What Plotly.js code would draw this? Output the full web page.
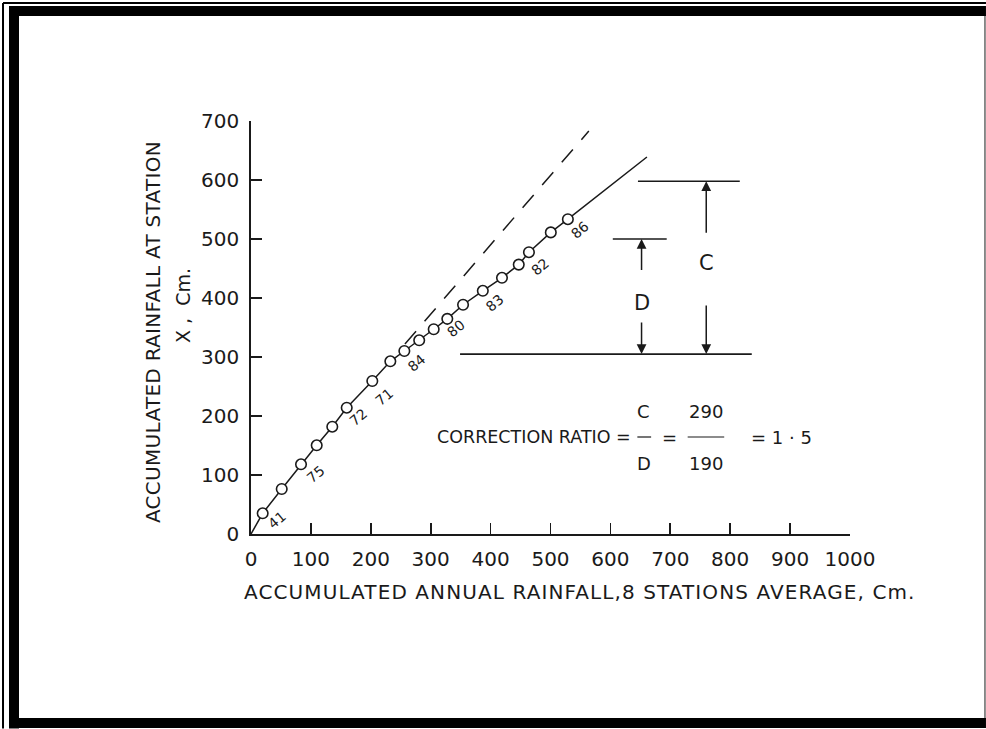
<!DOCTYPE html>
<html>
<head>
<meta charset="utf-8">
<script src="https://cdn.plot.ly/plotly-3.0.1.min.js"></script>
<style>
html,body{margin:0;padding:0;background:#fff;}
#chart{width:986px;height:729px;}
</style>
</head>
<body>
<div id="chart"></div>
<script>
// ---- data ----
const pointsX = [19.5, 51.3, 83.5, 109.7, 135.7, 159.8, 202.5, 232.6, 256, 280.8, 305, 327.7, 354, 387, 419, 447, 464, 500.5, 529];
const pointsY = [35.1, 76.3, 118.1, 150.3, 181.9, 214.1, 259.3, 292.7, 310.2, 328.3, 347, 364.7, 388.6, 412.2, 434.2, 456.6, 477.6, 511.2, 533.6];
const lineStart = [0, 0];
const lineEnd = [661, 639];
const dashX = [257, 564];
const dashY = [322, 683];
const yearLabels = ['41', '75', '72', '71', '84', '80', '83', '82', '86'];
const yearLabelX = [43, 108.5, 179, 222, 276.6, 343, 407, 482, 549];
const yearLabelY = [24, 101, 199, 233, 289, 349, 391, 453, 515];
const xTickVals = [0, 100, 200, 300, 400, 500, 600, 700, 800, 900, 1000];
const yTickVals = [0, 100, 200, 300, 400, 500, 600, 700];
const baseLevel = 305;      // common base line of C and D
const levelC = 598;
const levelD = 500;
const valueC = 290;
const valueD = 190;
const ratio = '1·5';

const ink = '#1a1a1a';
const FONT = 'DejaVu Sans, sans-serif';

const lineX = [lineStart[0]].concat(pointsX, [lineEnd[0]]);
const lineY = [lineStart[1]].concat(pointsY, [lineEnd[1]]);

const traces = [
  {x: dashX, y: dashY, mode: 'lines', line: {color: ink, width: 1.5, dash: '17px,13px'}, hoverinfo: 'skip'},
  {x: lineX, y: lineY, mode: 'lines', line: {color: ink, width: 1.5}, hoverinfo: 'skip'},
  {x: pointsX, y: pointsY, mode: 'markers', marker: {symbol: 'circle', size: 10.5, color: '#fff', line: {color: ink, width: 1.6}}, hoverinfo: 'skip'}
];

function spaced(t, px) { return '<span style="letter-spacing:' + px + 'px">' + t + '</span>'; }

const annotations = [];
yearLabels.forEach((t, i) => {
  annotations.push({x: yearLabelX[i], y: yearLabelY[i], xref: 'x', yref: 'y', text: t, showarrow: false,
    textangle: -40, font: {family: FONT, size: 14, color: ink}});
});
// axis titles (paper coords: px = 251 + 599*x, py = 534 - 413*y)
annotations.push({xref: 'paper', yref: 'paper', x: 0.549, y: -0.1404, xanchor: 'center', yanchor: 'middle',
  text: spaced('ACCUMULATED ANNUAL RAINFALL,8 STATIONS AVERAGE, Cm.', 1.1),
  showarrow: false, font: {family: FONT, size: 20, color: ink}});
annotations.push({xref: 'paper', yref: 'paper', x: -0.1636, y: 0.489, xanchor: 'center', yanchor: 'middle',
  text: spaced('ACCUMULATED RAINFALL AT STATION', 0.3), textangle: -90,
  showarrow: false, font: {family: FONT, size: 20, color: ink}});
annotations.push({xref: 'paper', yref: 'paper', x: -0.1135, y: 0.552, xanchor: 'center', yanchor: 'middle',
  text: 'X ,  Cm.', textangle: -90,
  showarrow: false, font: {family: FONT, size: 19, color: ink}});
// C and D arrows
const cX = 760, dX = 652;
function arrow(x, yHead, yTail) {
  annotations.push({x: x, y: yHead, ax: x, ay: yTail, xref: 'x', yref: 'y', axref: 'x', ayref: 'y', text: '',
    showarrow: true, arrowhead: 2, arrowsize: 1.3, arrowwidth: 1.5, arrowcolor: ink});
}
arrow(cX, levelC, 508);
arrow(cX, baseLevel, 390);
arrow(dX, levelD, 445);
arrow(dX, baseLevel, 361);
annotations.push({x: cX, y: 459, xref: 'x', yref: 'y', text: 'C', showarrow: false, font: {family: FONT, size: 21, color: ink}});
annotations.push({x: dX, y: 392, xref: 'x', yref: 'y', text: 'D', showarrow: false, font: {family: FONT, size: 21, color: ink}});
// correction ratio
const rY = 164.4;
const rFont = {family: FONT, size: 17.5, color: ink};
const rFont2 = {family: FONT, size: 18, color: ink};
annotations.push({x: 637, y: rY, xref: 'x', yref: 'y', xanchor: 'right', text: 'CORRECTION RATIO =', showarrow: false, font: rFont});
annotations.push({x: 656, y: 208, xref: 'x', yref: 'y', text: 'C', showarrow: false, font: rFont2});
annotations.push({x: 656, y: 120, xref: 'x', yref: 'y', text: 'D', showarrow: false, font: rFont2});
annotations.push({x: 699, y: rY, xref: 'x', yref: 'y', text: '=', showarrow: false, font: rFont2});
annotations.push({x: 759, y: 208, xref: 'x', yref: 'y', text: String(valueC), showarrow: false, font: rFont2});
annotations.push({x: 759, y: 120, xref: 'x', yref: 'y', text: String(valueD), showarrow: false, font: rFont2});
annotations.push({x: 831, y: rY, xref: 'x', yref: 'y', xanchor: 'left', text: '= ' + ratio.replace('1', '1 ').replace('·', '· '), showarrow: false, font: rFont2});

const shapes = [
  // base and level lines
  {type: 'line', xref: 'x', yref: 'y', x0: 349, x1: 836, y0: baseLevel, y1: baseLevel, line: {color: ink, width: 1.8}},
  {type: 'line', xref: 'x', yref: 'y', x0: 646, x1: 816, y0: levelC, y1: levelC, line: {color: ink, width: 1.6}},
  {type: 'line', xref: 'x', yref: 'y', x0: 604, x1: 694, y0: levelD, y1: levelD, line: {color: ink, width: 1.6}},
  // fraction bars
  {type: 'line', xref: 'x', yref: 'y', x0: 645, x1: 668, y0: rY, y1: rY, line: {color: ink, width: 1.2}},
  {type: 'line', xref: 'x', yref: 'y', x0: 729, x1: 790, y0: rY, y1: rY, line: {color: ink, width: 1.2}},
  // page frame
  {type: 'line', xref: 'paper', yref: 'paper', x0: -0.4140, x1: -0.4140, y0: 1.286, y1: -0.471, line: {color: '#000', width: 2}},
  {type: 'line', xref: 'paper', yref: 'paper', x0: -0.4140, x1: 1.227, y0: 1.286, y1: 1.286, line: {color: '#000', width: 2}},
  {type: 'rect', xref: 'paper', yref: 'paper', x0: -0.404, x1: 1.227, y0: 1.2784, y1: 1.2542, fillcolor: '#000', line: {width: 0}},
  {type: 'rect', xref: 'paper', yref: 'paper', x0: -0.404, x1: -0.3873, y0: 1.2784, y1: -0.471, fillcolor: '#000', line: {width: 0}},
  {type: 'rect', xref: 'paper', yref: 'paper', x0: -0.404, x1: 1.227, y0: -0.4455, y1: -0.4697, fillcolor: '#000', line: {width: 0}},
  {type: 'line', xref: 'paper', yref: 'paper', x0: 1.2253, x1: 1.2253, y0: 1.2542, y1: -0.4455, line: {color: '#666', width: 1.5}}
];

const axisCommon = {
  showgrid: false, zeroline: false, showline: true, linecolor: ink, linewidth: 1.8,
  ticks: 'inside', ticklen: 11, tickwidth: 1.7, tickcolor: ink, tickmode: 'array',
  tickfont: {family: FONT, size: 20, color: ink}, fixedrange: true
};

const layout = {
  width: 986, height: 729,
  margin: {l: 251, r: 136, t: 121, b: 195},
  paper_bgcolor: '#fff', plot_bgcolor: '#fff',
  showlegend: false,
  xaxis: Object.assign({}, axisCommon, {range: [0, 1000], tickvals: xTickVals, ticktext: xTickVals.map(String), ticklabelstandoff: 6}),
  yaxis: Object.assign({}, axisCommon, {range: [0, 700], tickvals: yTickVals, ticktext: yTickVals.map(String), ticklabelstandoff: 6}),
  annotations: annotations,
  shapes: shapes
};

Plotly.newPlot('chart', traces, layout, {staticPlot: true, displayModeBar: false});
</script>
</body>
</html>
